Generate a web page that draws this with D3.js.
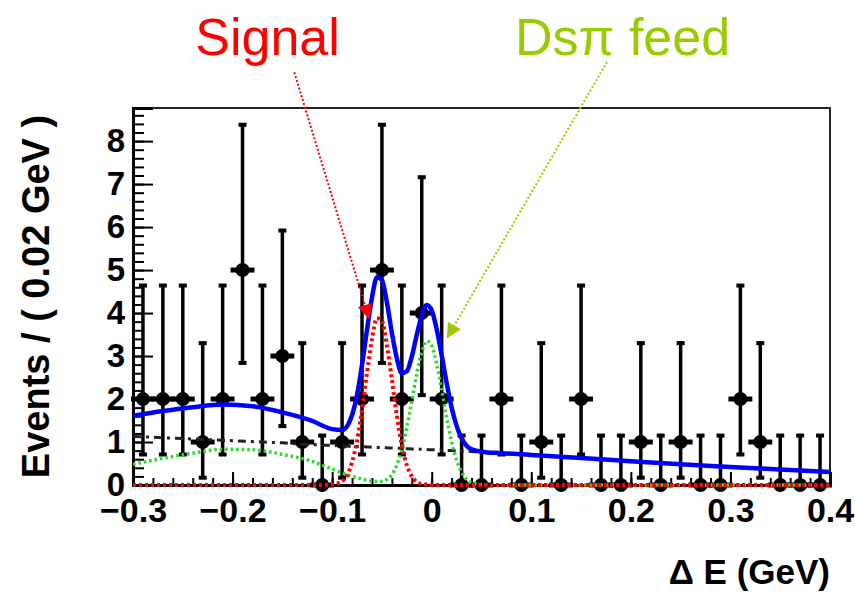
<!DOCTYPE html>
<html>
<head>
<meta charset="utf-8">
<script src="https://cdn.jsdelivr.net/npm/d3@7"></script>
<style>
  html, body { margin: 0; padding: 0; background: #ffffff; }
  svg { display: block; }
  text { font-family: "Liberation Sans", Arial, Helvetica, sans-serif; }
</style>
</head>
<body>
<svg id="chart" width="855" height="594"></svg>
<script>
// ---- ΔE histogram, 0.02 GeV bins -------------------------------------------
const binCenters = [-0.29, -0.27, -0.25, -0.23, -0.21, -0.19, -0.17, -0.15, -0.13, -0.11,
                    -0.09, -0.07, -0.05, -0.03, -0.01, 0.01, 0.03, 0.05, 0.07, 0.09,
                     0.11, 0.13, 0.15, 0.17, 0.19, 0.21, 0.23, 0.25, 0.27, 0.29,
                     0.31, 0.33, 0.35, 0.37, 0.39];
const counts     = [2, 2, 2, 1, 2, 5, 2, 3, 1, 0,
                    1, 2, 5, 2, 4, 2, 0, 0, 2, 0,
                    1, 0, 2, 0, 0, 1, 0, 1, 0, 0,
                    2, 1, 0, 0, 0];
// Poisson error-bar ends, indexed by the bin count
const intervalLow  = [0.00, 0.17, 0.71, 1.37, 2.09, 2.84];
const intervalHigh = [1.15, 3.30, 4.64, 5.92, 7.16, 8.38];

// ---- fit components sampled along ΔE ----------------------------------------
const curveE = [-0.30, -0.27, -0.24, -0.21, -0.18, -0.15, -0.12, -0.10, -0.09, -0.08,
                -0.075, -0.07, -0.065, -0.06, -0.055, -0.05, -0.045, -0.04, -0.035, -0.03,
                -0.025, -0.02, -0.015, -0.01, -0.005, 0.0, 0.005, 0.01, 0.015, 0.02,
                 0.025, 0.03, 0.035, 0.04, 0.05, 0.07, 0.10, 0.15, 0.20, 0.25,
                 0.30, 0.35, 0.40];
const signalCurve = [0, 0, 0, 0, 0, 0, 0, 0.01, 0.09, 0.53,
                     1.03, 1.76, 2.61, 3.39, 3.88, 3.82, 3.25, 2.44, 1.62, 0.93,
                     0.46, 0.20, 0.07, 0.02, 0.01, 0, 0, 0, 0, 0,
                     0, 0, 0, 0, 0, 0, 0, 0, 0, 0,
                     0, 0, 0];
const feedCurve   = [0.48, 0.62, 0.74, 0.83, 0.82, 0.71, 0.55, 0.37, 0.28, 0.20,
                     0.17, 0.14, 0.11, 0.09, 0.08, 0.08, 0.13, 0.24, 0.47, 0.82,
                     1.34, 1.95, 2.59, 3.09, 3.35, 3.24, 2.81, 2.21, 1.57, 1.00,
                     0.58, 0.30, 0.13, 0.05, 0.01, 0, 0, 0, 0, 0,
                     0, 0, 0];
const bkgCurve    = [1.13, 1.10, 1.07, 1.04, 1.01, 0.98, 0.94, 0.92, 0.91, 0.90,
                     0.895, 0.89, 0.885, 0.88, 0.875, 0.87, 0.865, 0.86, 0.855, 0.85,
                     0.845, 0.84, 0.835, 0.83, 0.825, 0.82, 0.815, 0.81, 0.805, 0.80,
                     0.795, 0.79, 0.785, 0.78, 0.765, 0.74, 0.70, 0.63, 0.55, 0.48,
                     0.42, 0.36, 0.30];

// ---- axes ---------------------------------------------------------------------
const xDomain = [-0.3, 0.4];
const yMax = 8.77;
const xTickValues = [-0.3, -0.2, -0.1, 0, 0.1, 0.2, 0.3, 0.4];
const xTickLabels = ["\u22120.3", "\u22120.2", "\u22120.1", "0", "0.1", "0.2", "0.3", "0.4"];
const yTickValues = [0, 1, 2, 3, 4, 5, 6, 7, 8];
const yTickLabels = ["0", "1", "2", "3", "4", "5", "6", "7", "8"];

// ---- annotations (data coordinates) ---------------------------------------------
const annotations = [
  { text: "Signal",        color: "#ff0000", label: [-0.2375, 10.0], from: [-0.138, 9.60], to: [-0.0626, 3.85] },
  { text: "Ds\u03c0 feed", color: "#99cc00", label: [ 0.0837, 10.0], from: [ 0.176, 9.84], to: [ 0.0152, 3.41] }
];

// ================================================================================
const W = 855, H = 594;
const margin = { left: 133, right: 25, top: 108, bottom: 109 };
const svg = d3.select("#chart");

const x = d3.scaleLinear().domain(xDomain).range([margin.left, W - margin.right]);
const y = d3.scaleLinear().domain([0, yMax]).range([H - margin.bottom, margin.top]);
const x0 = margin.left, x1 = W - margin.right, y0 = H - margin.bottom, y1 = margin.top;
const labelFont = "'Liberation Sans', Arial, sans-serif";

// frame (top / right edges)
svg.append("path")
  .attr("d", `M${x0},${y1}H${x1}V${y0}`)
  .attr("fill", "none").attr("stroke", "#222").attr("stroke-width", 2);

// minor ticks
const xMinor = d3.range(-0.30, 0.4001, 0.02);
const yMinor = d3.range(0, yMax, 0.2);
svg.append("g").attr("transform", `translate(0,${y0})`)
  .call(d3.axisBottom(x).tickValues(xMinor).tickSize(-7).tickFormat(""))
  .call(g => g.select(".domain").remove())
  .call(g => g.selectAll("line").attr("stroke", "#000").attr("stroke-width", 2));
svg.append("g").attr("transform", `translate(${x0},0)`)
  .call(d3.axisLeft(y).tickValues(yMinor).tickSize(-11).tickFormat(""))
  .call(g => g.select(".domain").remove())
  .call(g => g.selectAll("line").attr("stroke", "#000").attr("stroke-width", 2));

// major ticks + labels
svg.append("g").attr("transform", `translate(0,${y0})`)
  .call(d3.axisBottom(x).tickValues(xTickValues).tickSize(-13).tickPadding(13)
        .tickFormat((d, i) => xTickLabels[i]))
  .call(g => g.select(".domain").attr("stroke", "#000").attr("stroke-width", 3))
  .call(g => g.selectAll("line").attr("stroke", "#000").attr("stroke-width", 2))
  .call(g => g.selectAll("text").attr("fill", "#000").attr("font-size", 34)
        .attr("font-weight", "bold").style("font-family", labelFont));
svg.append("g").attr("transform", `translate(${x0},0)`)
  .call(d3.axisLeft(y).tickValues(yTickValues).tickSize(-20).tickPadding(8)
        .tickFormat((d, i) => yTickLabels[i]))
  .call(g => g.select(".domain").attr("stroke", "#000").attr("stroke-width", 3))
  .call(g => g.selectAll("line").attr("stroke", "#000").attr("stroke-width", 2))
  .call(g => g.selectAll("text").attr("fill", "#000").attr("font-size", 33)
        .attr("font-weight", "bold").style("font-family", labelFont));

// axis titles
svg.append("text")
  .attr("transform", `translate(49,${(y0 + y1) / 2}) rotate(-90)`)
  .attr("text-anchor", "middle")
  .attr("font-size", 38).attr("font-weight", "bold").attr("fill", "#000")
  .text("Events / ( 0.02 GeV )");
svg.append("text")
  .attr("x", x1).attr("y", 584)
  .attr("text-anchor", "end")
  .attr("font-size", 35).attr("font-weight", "bold").attr("fill", "#000")
  .text("\u0394 E (GeV)");

// ---- data points with Poisson error bars -----------------------------------------
const points = binCenters.map((c, i) => ({
  c, n: counts[i], lo: intervalLow[counts[i]], hi: intervalHigh[counts[i]]
}));
const dataG = svg.append("g");
const pt = dataG.selectAll("g.pt").data(points).join("g").attr("class", "pt");
pt.append("line")
  .attr("x1", d => x(d.c)).attr("x2", d => x(d.c))
  .attr("y1", d => y(d.lo)).attr("y2", d => y(d.hi))
  .attr("stroke", "#000").attr("stroke-width", 3.5);
pt.append("rect")
  .attr("x", d => x(d.c) - 4).attr("y", d => y(d.hi) - 2)
  .attr("width", 8).attr("height", 4).attr("fill", "#000");
pt.filter(d => d.lo > 0).append("rect")
  .attr("x", d => x(d.c) - 4).attr("y", d => y(d.lo) - 2)
  .attr("width", 8).attr("height", 4).attr("fill", "#000");
pt.append("line")
  .attr("x1", d => x(d.c - 0.01) - 2).attr("x2", d => x(d.c + 0.01) + 2)
  .attr("y1", d => y(d.n)).attr("y2", d => y(d.n))
  .attr("stroke", "#000").attr("stroke-width", 5);
pt.append("circle")
  .attr("cx", d => x(d.c)).attr("cy", d => y(d.n)).attr("r", 7)
  .attr("fill", "#000");

// ---- fit curves ---------------------------------------------------------------------
const totalCurve = curveE.map((e, i) => signalCurve[i] + feedCurve[i] + bkgCurve[i]);
const lineGen = vals => d3.line()
  .x((d, i) => x(curveE[i])).y(d => y(d))
  .curve(d3.curveMonotoneX)(vals);

svg.append("path").attr("d", lineGen(bkgCurve))
  .attr("fill", "none").attr("stroke", "#222").attr("stroke-width", 3)
  .attr("stroke-dasharray", "8,5,3,5");
svg.append("path").attr("d", lineGen(feedCurve))
  .attr("fill", "none").attr("stroke", "#22dd22").attr("stroke-width", 3.5)
  .attr("stroke-dasharray", "2.5,3");
svg.append("path").attr("d", lineGen(signalCurve))
  .attr("fill", "none").attr("stroke", "#ff0000").attr("stroke-width", 4)
  .attr("stroke-dasharray", "3,3");
svg.append("path").attr("d", lineGen(totalCurve))
  .attr("fill", "none").attr("stroke", "#0000ff").attr("stroke-width", 4.5);

// ---- annotations ----------------------------------------------------------------------
annotations.forEach(a => {
  const fx = x(a.from[0]), fy = y(a.from[1]);
  const tx = x(a.to[0]), ty = y(a.to[1]);
  const len = Math.hypot(tx - fx, ty - fy);
  const ux = (tx - fx) / len, uy = (ty - fy) / len;
  const headL = 15, headW = 7.5;
  const bx = tx - ux * headL, by = ty - uy * headL;
  svg.append("line")
    .attr("x1", fx).attr("y1", fy).attr("x2", bx).attr("y2", by)
    .attr("stroke", a.color).attr("stroke-width", 2)
    .attr("stroke-dasharray", "2,2");
  svg.append("path")
    .attr("d", `M${tx},${ty}L${bx - uy * headW},${by + ux * headW}L${bx + uy * headW},${by - ux * headW}Z`)
    .attr("fill", a.color);
  svg.append("text")
    .attr("x", x(a.label[0])).attr("y", y(a.label[1]))
    .attr("font-size", 52).attr("fill", a.color)
    .text(a.text);
});
</script>
</body>
</html>
